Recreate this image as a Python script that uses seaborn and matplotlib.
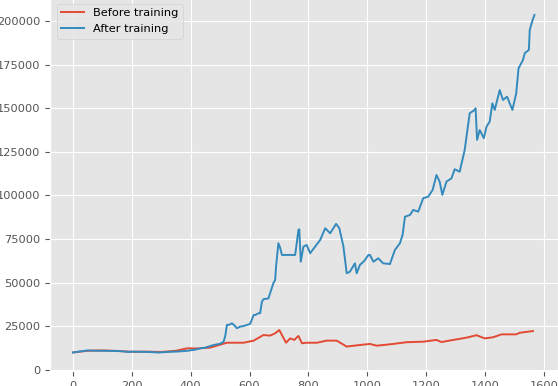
import matplotlib
matplotlib.use("Agg")
import matplotlib.pyplot as plt
import seaborn as sns
import pandas as pd

# ---- data ----
after_x = [0, 20, 50, 80, 100, 130, 160, 190, 200, 230, 260, 290, 300, 330, 360, 390,
           420, 433, 450, 478, 500, 512, 518, 523, 529, 540, 546, 557, 568, 580, 602,
           614, 619, 631, 636, 642, 647, 664, 681, 687, 690, 698, 704, 710, 730, 755,
           761, 766, 769, 774, 783, 794, 806, 823, 840, 857, 874, 894, 905, 919, 930,
           941, 958, 964, 975, 990, 1004, 1009, 1021, 1037, 1054, 1077, 1094, 1111,
           1120, 1128, 1145, 1156, 1173, 1190, 1207, 1222, 1235, 1246, 1255, 1269,
           1286, 1297, 1314, 1331, 1348, 1365, 1368, 1373, 1382, 1396, 1405, 1416,
           1425, 1433, 1450, 1461, 1475, 1493, 1506, 1514, 1529, 1535, 1549, 1552,
           1560, 1568]
after_y = [10000, 10500, 11200, 11000, 11000, 10900, 10800, 10300, 10500, 10400, 10300,
           10000, 10100, 10400, 10600, 11000, 11800, 12400, 12800, 14300, 15000, 16200,
           20000, 25800, 25800, 26700, 26000, 23900, 24800, 25200, 26400, 31500, 31500,
           32500, 32500, 39100, 40500, 41000, 49700, 51600, 59200, 72600, 70000, 65900,
           65900, 65900, 73500, 80200, 80600, 62000, 70700, 71600, 66900, 70700, 74500,
           81200, 78300, 83700, 81200, 70700, 55400, 56300, 61100, 55400, 60200, 62500,
           65900, 65900, 62000, 64000, 61100, 60700, 68800, 72600, 77400, 87800, 88800,
           91700, 90700, 98400, 99300, 103100, 111700, 107900, 100300, 107900, 109800,
           115000, 113600, 126100, 147100, 149000, 149900, 131800, 137500, 132800,
           139400, 142300, 152800, 149000, 160400, 154700, 156600, 149000, 158500,
           172900, 177600, 181500, 183400, 194800, 199600, 203400]

before_x = [0, 50, 100, 150, 200, 250, 300, 350, 388, 420, 467, 478, 523, 580, 614, 647,
            670, 687, 701, 710, 724, 738, 752, 766, 778, 794, 829, 862, 896, 930, 975,
            1009, 1032, 1088, 1134, 1190, 1235, 1252, 1292, 1337, 1371, 1399, 1427,
            1456, 1506, 1518, 1563]
before_y = [10000, 11000, 11200, 10900, 10400, 10500, 10300, 11000, 12400, 12300, 12800,
            13400, 15600, 15600, 16800, 20000, 19700, 21000, 22900, 20000, 15600, 18100,
            17200, 19500, 15300, 15600, 15600, 16800, 16800, 13400, 14300, 14900, 13900,
            14900, 15900, 16200, 17200, 16000, 17200, 18500, 19900, 18100, 18700, 20400,
            20400, 21300, 22300]

labels = ["Before training", "After training"]
colors = ["#E24A33", "#348ABD"]

df = pd.concat([
    pd.DataFrame({"x": before_x, "y": before_y, "series": labels[0]}),
    pd.DataFrame({"x": after_x, "y": after_y, "series": labels[1]}),
], ignore_index=True)

plt.style.use("ggplot")
plt.rcParams["font.family"] = ["DejaVu Sans"]

fig = plt.figure(figsize=(5.58, 3.86), dpi=100)
ax = fig.add_axes([50 / 558, 15 / 386, 508 / 558, 374 / 386])

sns.lineplot(data=df, x="x", y="y", hue="series", hue_order=labels,
             palette=colors, linewidth=1.4, ax=ax, sort=False, estimator=None)

ax.set_xlim(-78, 1648)
ax.set_ylim(-600, 213700)
ax.set_xticks(range(0, 1601, 200))
ax.set_yticks(range(0, 200001, 25000))
ax.set_xlabel("")
ax.set_ylabel("")
ax.tick_params(labelsize=8.2, colors="#555555")

handles, labs = ax.get_legend_handles_labels()
ax.legend(handles, labs, loc="upper left", fontsize=8.2, borderaxespad=0.6)

fig.savefig("out.png", dpi=100)
